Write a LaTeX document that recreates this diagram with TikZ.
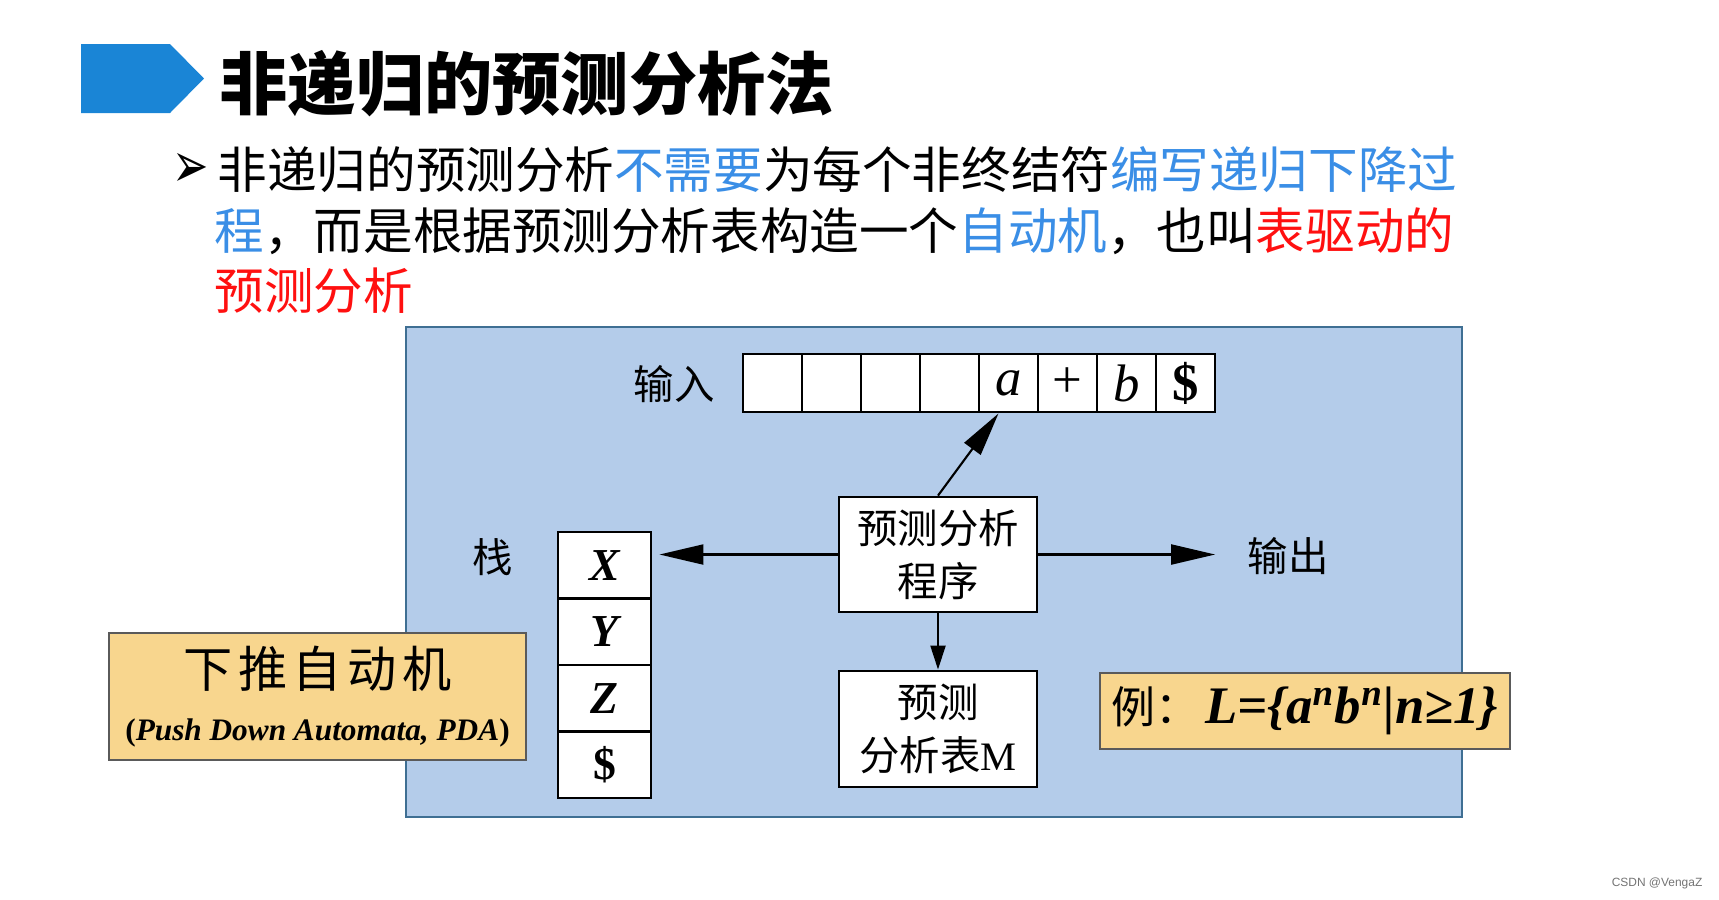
\documentclass[tikz,border=0pt]{standalone}
\usepackage{fontspec}
\setmainfont{Liberation Serif}
\newfontfamily\cjk{Noto Sans CJK SC}
\newfontfamily\dingbat{DejaVu Sans}
\newfontfamily\wmark{Liberation Sans}
\usetikzlibrary{arrows.meta, positioning, calc}
\definecolor{mTitleBlue}{HTML}{1A85D6}
\definecolor{mTextBlue}{HTML}{3A8EE6}
\definecolor{mTextRed}{HTML}{FF1010}
\definecolor{mPanel}{HTML}{B4CCEA}
\definecolor{mPanelEdge}{HTML}{3F6F93}
\definecolor{mNote}{HTML}{F8D68E}
\definecolor{mNoteEdge}{HTML}{5A5A5A}
\newcommand\txtblue[1]{{\color{mTextBlue}#1}}
\newcommand\txtred[1]{{\color{mTextRed}#1}}

\begin{document}
\begin{tikzpicture}[x=0.01cm, y=-0.01cm,
    body/.style={anchor=west, inner sep=0pt, font=\cjk\fontsize{14.1}{16}\selectfont},
    box/.style={draw, line width=0.8pt, fill=white, minimum width=1.98cm, minimum height=1.15cm, align=center, font=\cjk\fontsize{11.5}{15}\selectfont},
    cell/.style={draw, line width=0.8pt, fill=white, minimum width=0.59cm, minimum height=0.58cm, inner sep=0pt, font=\fontsize{15}{15}\selectfont},
    scell/.style={draw, line width=0.8pt, fill=white, minimum width=0.93cm, minimum height=0.665cm, inner sep=0pt, font=\bfseries\itshape\fontsize{13}{13}\selectfont},
    lbl/.style={font=\cjk\fontsize{11.5}{14}\selectfont},
    note/.style={draw=mNoteEdge, line width=0.6pt, fill=mNote, inner sep=0pt, align=center},
    big/.style={-{Triangle[length=0.44cm, width=0.2cm]}, line width=0.6pt},
    small/.style={-{Triangle[length=0.24cm, width=0.15cm]}, line width=0.6pt}]
    \useasboundingbox (0,0) rectangle (1719,899);
    % title bar
    \fill[mTitleBlue] (81,44) -- (170,44) -- (204,78.5) -- (170,113) -- (81,113) -- cycle;
    \node[anchor=west, inner sep=0pt, font=\cjk\bfseries\fontsize{19.4}{22}\selectfont] (title) at (219,84) {非递归的预测分析法};
    % bullet text
    \node[anchor=west, inner sep=0pt, font=\dingbat\fontsize{13}{13}\selectfont] (mark) at (172,170) {\scalebox{0.95}[1.4]{➢}};
    \node[body] (line1) at (217,170) {非递归的预测分析\txtblue{不需要}为每个非终结符\txtblue{编写递归下降过}};
    \node[body] (line2) at (214,231) {\txtblue{程}，而是根据预测分析表构造一个\txtblue{自动机}，也叫\txtred{表驱动的}};
    \node[body] (line3) at (214,291) {\txtred{预测分析}};
    % panel
    \draw[fill=mPanel, draw=mPanelEdge, line width=0.7pt] (406,327) rectangle (1462,817);
    % input tape
    \foreach \t [count=\i] in {{},{},{},{},\textit{a},+,\textit{b},\textbf{\$}}
      \node[cell] (c\i) at ({772.5+59*(\i-1)},383) {\t};
    \node[lbl] (inp) at (674,384) {输入};
    % stack
    \foreach \t [count=\i] in {X,Y,Z,\upshape\$}
      \node[scell] (s\i) at (604.5,{532+66.5*(\i-0.5)}) {\t};
    \node[lbl] (stk) at (493,557) {栈};
    % program and table
    \node[box] (prog) at (938,554.5) {预测分析\\程序};
    \node[box, minimum height=1.16cm] (tbl) at (938,729) {预测\\分析表{\rmfamily M}};
    \node[lbl] (out) at (1288,556) {输出};
    \draw[big] (prog.north) -- ([xshift=-0.1cm]c5.south);
    \draw[big, shorten >=0.07cm] (prog.west) -- (prog.west -| s1.east);
    \draw[big, shorten >=0.2cm] (prog.east) -- (prog.east -| out.west);
    \draw[small] (prog.south) -- (tbl.north);
    % notes
    \node[note, minimum width=4.17cm, minimum height=1.27cm] (pda) at (317.5,696.5)
      {{\cjk\fontsize{14}{16}\selectfont 下\hspace{1.6pt}推\hspace{1.6pt}自\hspace{1.6pt}动\hspace{1.6pt}机}\\[3pt]{\bfseries\fontsize{8.9}{11}\selectfont(\textit{Push Down Automata, PDA})}};
    \node[note, minimum width=4.10cm, minimum height=0.76cm] (ex) at (1305,711)
      {{\cjk\fontsize{12.5}{14}\selectfont 例：}\,{\bfseries\itshape\fontsize{15}{16}\selectfont L=\{a\textsuperscript{n}b\textsuperscript{n}|n≥1\}}};
    % watermark
    \node[anchor=east, inner sep=0pt, text=black!55, font=\wmark\fontsize{3.4}{4}\selectfont] (wm) at (1703,883) {CSDN @VengaZ};
\end{tikzpicture}
\end{document}
